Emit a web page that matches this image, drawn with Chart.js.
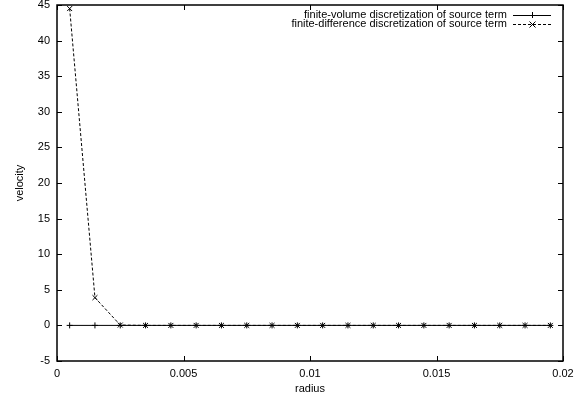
<!DOCTYPE html>
<html>
<head>
<meta charset="utf-8">
<script src="https://cdn.jsdelivr.net/npm/chart.js@4"></script>
<style>
  html, body { margin: 0; padding: 0; background: #fff; }
  #wrap { width: 583px; height: 402px; }
</style>
</head>
<body>
<div id="wrap"><canvas id="c" width="583" height="402"></canvas></div>
<script>
const radius = [0.0005, 0.0015, 0.0025, 0.0035, 0.0045, 0.0055, 0.0065, 0.0075, 0.0085, 0.0095,
  0.0105, 0.0115, 0.0125, 0.0135, 0.0145, 0.0155, 0.0165, 0.0175, 0.0185, 0.0195];
const finiteVolume = [0, 0, 0, 0, 0, 0, 0, 0, 0, 0, 0, 0, 0, 0, 0, 0, 0, 0, 0, 0];
const finiteDifference = [44.5, 3.9, 0.05, 0, 0, 0, 0, 0, 0, 0, 0, 0, 0, 0, 0, 0, 0, 0, 0, 0];
const xTicks = [0, 0.005, 0.01, 0.015, 0.02];
const yTicks = [-5, 0, 5, 10, 15, 20, 25, 30, 35, 40, 45];

const font = { family: "'Liberation Sans', Arial, sans-serif", size: 11 };

// gnuplot look: frame, inward mirrored ticks, key in the top right corner
const gnuplotFrame = {
  id: "gnuplotFrame",
  afterDraw(chart) {
    const ctx = chart.ctx;
    const a = chart.chartArea;
    const xs = chart.scales.x, ys = chart.scales.y;
    ctx.save();
    ctx.strokeStyle = "#000";
    ctx.lineWidth = 1;
    ctx.beginPath();
    for (const v of xTicks) {
      const px = Math.round(xs.getPixelForValue(v)) + 0.5;
      ctx.moveTo(px, a.bottom); ctx.lineTo(px, a.bottom - 5);
      ctx.moveTo(px, a.top); ctx.lineTo(px, a.top + 5);
    }
    for (const v of yTicks) {
      const py = Math.round(ys.getPixelForValue(v)) + 0.5;
      ctx.moveTo(a.left, py); ctx.lineTo(a.left + 5, py);
      ctx.moveTo(a.right, py); ctx.lineTo(a.right - 5, py);
    }
    ctx.stroke();
    ctx.lineWidth = 1.5;
    ctx.strokeRect(a.left, a.top, a.right - a.left, a.bottom - a.top);

    // key
    ctx.font = font.size + "px " + font.family;
    ctx.fillStyle = "#000";
    ctx.textAlign = "right";
    ctx.textBaseline = "middle";
    const rows = [15, 24];
    chart.data.datasets.forEach((ds, i) => {
      const y = rows[i];
      ctx.fillText(ds.label, 507, y);
      ctx.lineWidth = 1;
      ctx.setLineDash(ds.borderDash || []);
      ctx.beginPath();
      ctx.moveTo(513, y + 0.5); ctx.lineTo(551, y + 0.5);
      ctx.stroke();
      ctx.setLineDash([]);
      ctx.beginPath();
      if (ds.pointStyle === "cross") {
        ctx.moveTo(532.5, y - 3); ctx.lineTo(532.5, y + 3);
        ctx.moveTo(529, y + 0.5); ctx.lineTo(536, y + 0.5);
      } else {
        ctx.moveTo(529.5, y - 2.5); ctx.lineTo(535.5, y + 3.5);
        ctx.moveTo(535.5, y - 2.5); ctx.lineTo(529.5, y + 3.5);
      }
      ctx.stroke();
    });
    ctx.restore();
  }
};

const fmt = v => String(Number(v.toFixed(4)));

new Chart(document.getElementById("c"), {
  type: "line",
  data: {
    datasets: [
      {
        label: "finite-volume discretization of source term",
        data: radius.map((r, i) => ({ x: r, y: finiteVolume[i] })),
        borderColor: "#000",
        borderWidth: 1,
        pointStyle: "cross",
        pointRadius: 3,
        pointBorderColor: "#000",
        pointBorderWidth: 1,
        fill: false,
        tension: 0
      },
      {
        label: "finite-difference discretization of source term",
        data: radius.map((r, i) => ({ x: r, y: finiteDifference[i] })),
        borderColor: "#000",
        borderWidth: 1,
        borderDash: [3, 2],
        pointStyle: "crossRot",
        pointRadius: 3.5,
        pointBorderColor: "#000",
        pointBorderWidth: 1,
        fill: false,
        tension: 0
      }
    ]
  },
  options: {
    responsive: false,
    animation: false,
    layout: { padding: { top: 5, right: 20, left: 0, bottom: 0 } },
    plugins: { legend: { display: false }, tooltip: { enabled: false } },
    scales: {
      x: {
        type: "linear",
        min: 0,
        max: 0.02,
        afterFit: s => { s.height = 41; s.paddingLeft = 0; s.paddingRight = 0; },
        afterBuildTicks: s => { s.ticks = xTicks.map(v => ({ value: v })); },
        grid: { display: false, drawTicks: false, tickLength: 0 },
        border: { display: false },
        ticks: { color: "#000", font, padding: 6, maxRotation: 0, callback: v => fmt(v) },
        title: { display: true, text: "radius", color: "#000", font, padding: { top: 0, bottom: 6 } }
      },
      y: {
        type: "linear",
        min: -5,
        max: 45,
        afterFit: s => { s.width = 57; s.paddingTop = 0; s.paddingBottom = 0; },
        afterBuildTicks: s => { s.ticks = yTicks.map(v => ({ value: v })); },
        grid: { display: false, drawTicks: false, tickLength: 0 },
        border: { display: false },
        ticks: { color: "#000", font, padding: 7, callback: v => fmt(v) },
        title: { display: true, text: "velocity", color: "#000", font, padding: { top: 13, bottom: 0 } }
      }
    }
  },
  plugins: [gnuplotFrame]
});
</script>
</body>
</html>
